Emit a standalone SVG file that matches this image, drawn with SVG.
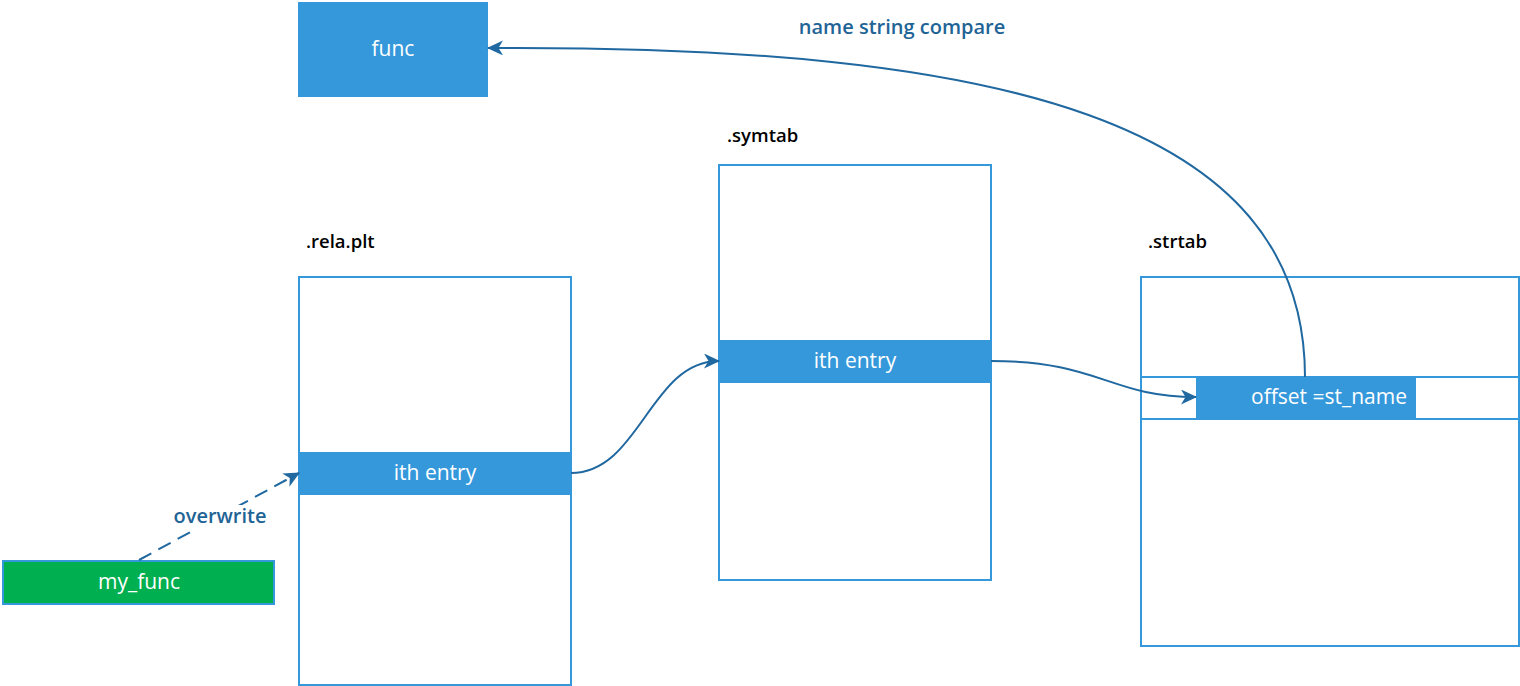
<svg xmlns="http://www.w3.org/2000/svg" width="1520" height="686" viewBox="0 0 1520 686">
<style>
.frame{fill:#fff;stroke:#3598db;stroke-width:2}
.bar{fill:#3598db}
.wt{font-family:"Open Sans","DejaVu Sans",sans-serif;font-size:21px;fill:#fff;text-anchor:middle}
.lbl{font-family:"Open Sans","DejaVu Sans",sans-serif;font-size:18.5px;font-weight:600;fill:#000}
.elbl{font-family:"Open Sans","DejaVu Sans",sans-serif;font-size:20px;font-weight:600;fill:#1f6496;text-anchor:middle}
.edge{fill:none;stroke:#2068a0;stroke-width:2}
</style>
<defs>
<marker id="arr" markerUnits="userSpaceOnUse" markerWidth="17" markerHeight="15" refX="15" refY="7.5" orient="auto" viewBox="0 0 17 15">
<path d="M0,0 L16,7.5 L0,15 L4.5,7.5 Z" fill="#2068a0"/>
</marker>
</defs>
<rect width="1520" height="686" fill="#fff"/>

<g id="func">
<rect x="298" y="2" width="190" height="95" class="bar"/>
<text x="393" y="56" class="wt">func</text>
</g>

<g id="rela-plt">
<text x="306" y="248" class="lbl">.rela.plt</text>
<rect x="299" y="277" width="272" height="408" class="frame"/>
<rect x="299" y="452" width="272" height="43" class="bar"/>
<text x="435" y="480" class="wt">ith entry</text>
</g>

<g id="symtab">
<text x="727" y="142" class="lbl">.symtab</text>
<rect x="719" y="165" width="272" height="415" class="frame"/>
<rect x="719" y="340" width="272" height="43" class="bar"/>
<text x="855" y="368" class="wt">ith entry</text>
</g>

<g id="strtab">
<text x="1148" y="248" class="lbl">.strtab</text>
<rect x="1141" y="277" width="378" height="369" class="frame"/>
<line x1="1141" y1="377" x2="1519" y2="377" stroke="#3598db" stroke-width="2"/>
<line x1="1141" y1="419" x2="1519" y2="419" stroke="#3598db" stroke-width="2"/>
<rect x="1196" y="377" width="220" height="42" class="bar"/>
<text x="1329" y="404" class="wt">offset =st_name</text>
</g>

<g id="my_func">
<rect x="3" y="561" width="271" height="43" fill="#00af50" stroke="#3598db" stroke-width="2"/>
<text x="139" y="589" class="wt">my_func</text>
</g>

<g id="connectors">
<path d="M139,560 L299,473" class="edge" stroke-dasharray="14 8" marker-end="url(#arr)"/>
<rect x="174" y="505" width="92" height="24" fill="#fff"/>
<text x="220" y="523" class="elbl">overwrite</text>
<path d="M571,473 C640,473 650,361 719,361" class="edge" marker-end="url(#arr)"/>
<path d="M991,361 C1100,361 1110,397 1196,397" class="edge" marker-end="url(#arr)"/>
<path d="M1305,377 C1305,120 1000,45 488,48" class="edge" marker-end="url(#arr)"/>
<text x="902" y="34" class="elbl">name string compare</text>
</g>
</svg>
